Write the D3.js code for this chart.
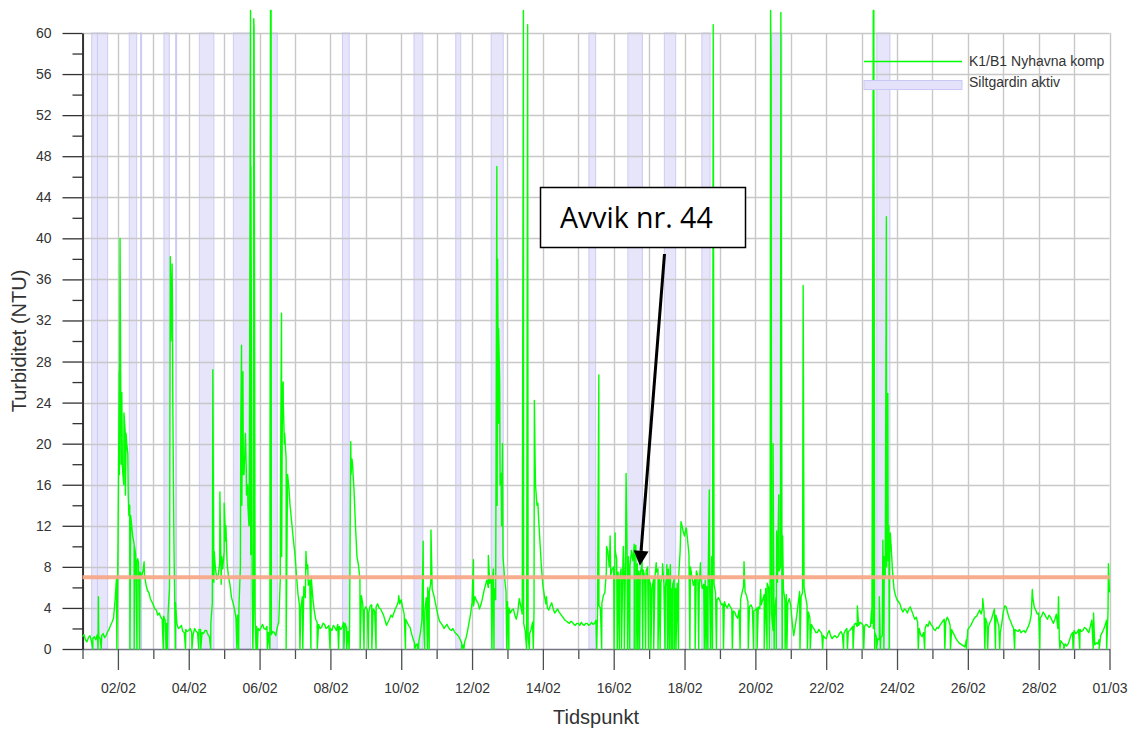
<!DOCTYPE html>
<html>
<head>
<meta charset="utf-8">
<script src="https://cdn.jsdelivr.net/npm/d3@7"></script>
<style>
  html, body { margin: 0; padding: 0; background: #fff; }
  svg { display: block; font-family: "Liberation Sans", Arial, sans-serif; }
</style>
</head>
<body>
<svg id="chart" width="1128" height="729"></svg>
<script>
// Measurement period: February 2024. Day offsets below count from 01/02 00:00.
const periodStart = new Date(2024, 1, 1);
const periodEnd = new Date(2024, 2, 1);

const dateTicks = ["02/02", "04/02", "06/02", "08/02", "10/02", "12/02", "14/02",
  "16/02", "18/02", "20/02", "22/02", "24/02", "26/02", "28/02", "01/03"];
const yTicks = [0, 4, 8, 12, 16, 20, 24, 28, 32, 36, 40, 44, 48, 52, 56, 60];
const yMinorTicks = [2, 6, 10, 14, 18, 22, 26, 30, 34, 38, 42, 46, 50, 54, 58];

// Turbidity limit (NTU)
const threshold = 7;

// Periods with the silt curtain active, [start day, end day]
const curtainPeriods = [
  [0.26, 0.43], [0.42, 0.71], [1.32, 1.53], [1.64, 1.66], [2.30, 2.45], [2.63, 2.65],
  [3.30, 3.71], [4.26, 4.75], [5.30, 5.50], [7.34, 7.53], [9.36, 9.61], [10.54, 10.68],
  [11.54, 11.88], [14.30, 14.49], [15.40, 15.81], [16.43, 16.75], [17.49, 17.72],
  [19.46, 19.75], [22.43, 22.80]
];

// K1/B1 Nyhavna komp: hourly turbidity (NTU), one row per day
const turbidityHourly = [
  1.2, 1.4, 0.9, 0.7, 1.1, 1.3, 0.8, 1.0, 1.2, 0.9, 1.4, 1.2, 1.0, 1.3, 1.5, 1.1, 1.3, 1.7, 1.9, 2.3, 2.6, 3.0, 4.6, 6.8,
  9.5, 17, 22, 18, 16, 21, 20, 15, 14, 12.5, 11, 10.2, 9.2, 8.6, 8.4, 7.5, 7.1, 7.6, 7.2, 6.3, 5.7, 5.5, 4.9, 4.6,
  4.3, 3.9, 3.8, 3.3, 3.5, 3.1, 2.9, 3.2, 2.8, 2.5, 3.4, 6.0, 30, 33, 10, 4.5, 2.4, 2.0, 2.1, 2.3, 1.7, 1.6, 1.9, 1.7,
  1.8, 2.0, 1.6, 1.4, 2.0, 1.7, 1.6, 1.9, 1.9, 1.6, 1.5, 1.8, 1.8, 1.4, 1.2, 2.6, 4.5, 6.5, 8.0, 6.8, 7.2, 8.4, 6.3, 7.8,
  9.5, 10.5, 8.3, 7.0, 6.2, 5.0, 4.5, 3.9, 3.0, 3.3, 4.0, 8.0, 14, 17, 19, 17.5, 16, 12, 9.2, 6.0, 4.1, 3.0, 2.2, 2.0,
  1.8, 2.1, 2.4, 2.0, 1.9, 2.2, 1.6, 1.8, 1.4, 1.7, 1.6, 1.3, 2.1, 2.6, 6.7, 9.0, 26, 21, 18.5, 17, 15.5, 13.5, 12, 10.5,
  9.2, 7.2, 5.4, 4.3, 4.0, 5.1, 6.1, 5.0, 7.8, 6.2, 6.7, 7.0, 5.1, 3.8, 2.9, 2.6, 2.4, 2.0, 2.1, 2.5, 2.4, 2.0, 2.1, 2.3,
  2.0, 1.8, 2.3, 2.1, 1.8, 2.4, 2.2, 1.9, 2.1, 2.6, 2.5, 2.0, 1.7, 2.3, 17, 18, 15.5, 12, 9.0, 8.2, 6.8, 5.2, 4.3, 3.8,
  4.1, 3.8, 3.6, 4.2, 4.3, 3.9, 3.7, 4.1, 4.4, 4.0, 3.9, 3.6, 3.3, 2.8, 2.3, 2.6, 2.9, 3.3, 3.1, 3.5, 3.9, 4.2, 4.6, 4.4,
  4.8, 4.0, 3.4, 2.9, 2.6, 2.3, 2.1, 1.5, 1.0, 0.6, 0.4, 0.5, 0.8, 1.6, 2.8, 3.3, 3.7, 5.0, 6.0, 5.6, 6.4, 5.8, 5.3, 4.6,
  3.9, 3.2, 2.7, 2.5, 2.3, 2.0, 2.2, 2.4, 2.1, 1.9, 1.8, 2.0, 1.7, 1.5, 1.4, 1.2, 0.9, 0.6, 0.4, 0.7, 1.1, 1.8, 2.6, 3.4,
  4.5, 4.2, 5.1, 4.7, 4.5, 3.9, 4.3, 4.9, 5.6, 6.2, 6.7, 6.0, 6.4, 7.1, 6.9, 5.9, 4.8, 14, 22, 16, 12, 9.0, 7.0, 5.6,
  4.6, 4.0, 3.5, 3.8, 3.9, 3.3, 2.9, 3.6, 4.9, 4.2, 3.4, 2.5, 1.8, 1.4, 1.1, 1.5, 1.9, 2.6, 3.8, 16, 14, 13, 10.5, 8.0,
  6.2, 5.2, 4.4, 4.0, 3.8, 4.2, 4.5, 3.9, 3.5, 3.7, 3.9, 3.6, 3.4, 3.2, 3.0, 2.8, 2.7, 2.6, 2.5, 2.7, 2.6, 2.4, 2.3, 2.5,
  2.5, 2.3, 2.6, 2.4, 2.3, 2.5, 2.5, 2.3, 2.4, 2.6, 2.4, 2.5, 2.8, 3.3, 4.2, 4.0, 4.5, 5.2, 5.5, 7.5, 9.5, 8.0, 7.2, 7.8,
  8.0, 9.6, 8.8, 7.5, 6.9, 7.8, 6.5, 7.2, 8.6, 10.2, 9.0, 8.1, 9.5, 8.6, 9.6, 10.1, 8.3, 7.6, 7.4, 8.1, 7.7, 7.0, 7.6, 8.0,
  6.8, 6.3, 5.9, 6.8, 7.1, 7.5, 7.8, 7.0, 6.5, 7.3, 6.4, 6.0, 7.3, 7.8, 6.6, 5.9, 6.3, 6.8, 5.9, 6.4, 7.0, 9.5, 12.2, 11.5,
  11, 11.8, 10.7, 9.2, 8.0, 7.0, 6.2, 6.8, 7.6, 7.1, 6.3, 6.9, 5.9, 6.3, 6.7, 6.1, 7.0, 6.4, 5.8, 6.5, 6.3, 5.5, 4.8, 5.0,
  4.7, 4.3, 4.4, 4.6, 4.2, 4.0, 4.4, 4.1, 3.9, 3.7, 3.6, 3.2, 3.0, 3.8, 4.8, 5.5, 6.1, 5.6, 5.2, 4.6, 4.1, 4.3, 4.0, 3.7,
  3.8, 4.0, 4.1, 3.9, 4.3, 4.8, 5.3, 5.9, 6.4, 6.0, 6.9, 3.5, 1.8, 3.2, 5.0, 6.5, 7.6, 8.0, 7.1, 5.8, 4.8, 5.3, 4.5, 4.9,
  4.2, 2.5, 1.3, 2.2, 3.2, 4.4, 5.6, 5.1, 5.5, 6.0, 5.1, 4.3, 3.6, 3.0, 2.4, 2.1, 1.9, 1.6, 1.6, 1.9, 1.7, 1.5, 1.3, 1.1,
  1.0, 1.5, 1.8, 1.3, 1.0, 1.2, 1.3, 1.1, 1.2, 1.5, 1.7, 1.4, 1.5, 1.8, 2.0, 1.7, 1.8, 2.0, 2.2, 2.4, 2.5, 2.2, 2.3, 2.6,
  2.5, 2.3, 2.2, 2.4, 2.3, 2.1, 2.2, 2.5, 2.0, 1.6, 1.2, 1.0, 0.9, 1.1, 1.3, 3.5, 7.0, 8.0, 8.6, 9.2, 10, 7.5, 5.8, 5.2,
  4.8, 4.6, 4.4, 3.9, 3.6, 3.9, 3.8, 3.5, 3.9, 4.1, 3.7, 3.3, 2.9, 3.1, 2.6, 2.0, 1.4, 1.2, 1.6, 2.0, 2.4, 2.2, 2.7, 2.4,
  2.2, 1.9, 1.8, 2.1, 2.0, 2.3, 2.5, 2.7, 2.9, 2.6, 3.1, 2.8, 2.3, 1.9, 1.6, 1.3, 1.0, 0.8, 0.6, 0.5, 0.4, 0.3, 0.2, 0.9,
  1.9, 2.1, 2.3, 2.6, 2.9, 3.1, 3.2, 3.5, 3.8, 3.4, 4.0, 3.6, 3.0, 2.5, 2.2, 2.6, 2.9, 3.4, 3.9, 3.3, 2.8, 2.2, 1.6, 2.5,
  3.6, 4.2, 4.1, 3.5, 3.0, 2.7, 2.3, 2.0, 1.9, 1.8, 1.7, 1.9, 1.6, 1.7, 1.8, 1.6, 1.9, 2.2, 2.6, 3.4, 5.0, 4.1, 3.8, 3.4,
  3.5, 3.0, 3.2, 3.6, 3.4, 3.1, 2.9, 3.3, 3.1, 2.8, 2.5, 2.9, 3.4, 2.0, 1.0, 0.8, 0.6, 0.4, 0.5, 0.3, 0.5, 0.9, 1.4, 1.6,
  1.8, 1.5, 1.6, 1.9, 1.9, 1.7, 1.8, 2.1, 2.0, 1.8, 1.6, 2.2, 2.8, 1.3, 0.4, 0.6, 0.5, 0.9, 1.3, 1.6, 1.9, 2.3, 2.8, 3.6,
  5.5
];

// Short turbidity peaks between the hourly readings, [day, NTU]
const spikes = [
  [0.45, 5.1],
  [1.04, 27], [1.06, 40], [1.09, 18], [1.11, 25], [1.14, 17], [1.17, 23], [1.21, 15],
  [1.23, 21], [1.28, 19], [1.31, 13], [1.36, 13], [1.47, 10], [1.56, 8.8], [1.74, 8.5],
  [2.48, 38.2], [2.53, 37.5], [2.55, 24],
  [3.68, 27.2], [3.72, 9.5], [3.88, 15.3], [3.93, 9],
  [4.0, 14.2], [4.05, 12], [4.47, 22], [4.49, 29.6], [4.51, 20], [4.53, 27], [4.56, 17],
  [4.6, 21], [4.63, 15], [4.67, 14], [4.7, 12], [4.745, 62.2], [4.755, 47], [4.835, 61.4],
  [4.845, 60.5],
  [5.31, 62.2], [5.325, 62.2], [5.6, 22], [5.62, 32.7], [5.645, 25], [5.67, 24], [5.7, 20],
  [5.79, 17], [5.86, 14],
  [6.31, 9.5], [6.36, 8.2],
  [7.575, 20.2], [7.61, 18.5],
  [8.93, 5.2],
  [9.62, 10.5], [9.84, 11.6],
  [11.04, 8.7], [11.46, 9.1], [11.6, 7.8], [11.7, 47], [11.72, 38], [11.75, 31.2],
  [11.78, 26], [11.82, 17.1], [11.86, 20],
  [12.45, 62.2], [12.57, 60.8], [12.76, 24.2], [12.78, 18.4], [12.86, 14.2],
  [13.1, 5.1],
  [14.58, 26.7], [14.8, 10], [14.9, 11],
  [15.04, 11.3], [15.27, 10], [15.35, 17.1], [15.37, 11.6], [15.5, 9.6], [15.58, 10.2], [15.8, 8.5],
  [16.2, 8.4], [16.38, 8.3], [16.5, 8.2], [16.6, 8.2], [16.9, 12.4],
  [17.05, 11.8], [17.45, 8.4], [17.7, 15.5], [17.765, 9], [17.81, 60.8],
  [18.68, 8.5],
  [19.15, 5.8], [19.43, 62.2], [19.445, 56], [19.5, 20], [19.6, 11.5], [19.66, 15],
  [19.72, 62], [19.77, 11],
  [20.35, 35.4],
  [21.88, 4.2],
  [22.28, 3.8], [22.33, 62.2], [22.345, 62.2], [22.5, 5.1], [22.6, 10.6], [22.64, 9],
  [22.7, 42.1], [22.74, 24.9], [22.77, 12], [22.81, 11.3],
  [25.42, 4.9],
  [26.82, 5.8],
  [27.56, 5.1],
  [28.55, 3.5], [28.97, 8.3]
];

// Sensor dropouts (reading 0 NTU), day
const dropouts = [
  0.29, 0.44, 0.53, 0.97, 1.34, 1.46, 1.54, 1.61, 2.28, 2.36, 2.40, 2.62, 2.91, 3.09, 3.28,
  3.34, 3.62, 4.36, 4.41, 4.81, 4.90, 4.94, 5.22, 5.29, 5.75, 6.14, 6.22, 6.45, 6.63, 6.99,
  7.23, 7.38, 7.46, 7.53, 7.84, 7.95, 8.07, 8.17, 8.29, 9.12, 9.38, 9.46, 9.49, 9.66, 9.74,
  9.79, 10.71, 10.77, 11.56, 11.62, 11.98, 12.04, 12.54, 12.62, 12.73, 14.52, 14.66, 15.01,
  15.1, 15.16, 15.22, 15.3, 15.39, 15.45, 15.58, 15.63, 15.68, 15.73, 15.82, 15.9, 15.98,
  16.05, 16.13, 16.25, 16.31, 16.45, 16.52, 16.57, 16.62, 16.66, 16.71, 16.76, 16.83,
  17.15, 17.3, 17.4, 17.56, 17.61, 17.66, 17.74, 17.79, 17.9, 18.1, 18.35, 18.57, 18.8,
  18.95, 19.05, 19.25, 19.33, 19.40, 19.53, 19.59, 19.76, 19.84, 19.89, 20.26, 20.47,
  20.55, 20.9, 21.49, 21.6, 21.76, 22.06, 22.37, 22.42, 22.53, 22.63, 22.78, 23.6, 23.78,
  24.35, 24.51, 24.96, 25.48, 25.56, 25.78, 25.9, 26.32, 27.03, 27.6, 27.71, 27.97, 28.16,
  28.54, 28.71, 28.92
];

const annotation = { label: "Avvik nr. 44", day: 15.74, value: 8.1 };

// ---------------------------------------------------------------------------
const svg = d3.select("#chart");
const plot = { left: 82.5, right: 1109.5, top: 33, bottom: 649 };

const toDate = d => new Date(periodStart.getTime() + d * 86400000);

const x = d3.scaleTime().domain([periodStart, periodEnd]).range([plot.left, plot.right]);
const y = d3.scaleLinear().domain([0, 60]).range([plot.bottom, plot.top]);

// silt curtain periods
svg.append("g")
  .selectAll("rect")
  .data(curtainPeriods)
  .join("rect")
  .attr("x", d => x(toDate(d[0])))
  .attr("width", d => Math.max(1, x(toDate(d[1])) - x(toDate(d[0]))))
  .attr("y", plot.top)
  .attr("height", plot.bottom - plot.top)
  .attr("fill", "#e7e5fa")
  .attr("stroke", "#cccbf7")
  .attr("stroke-width", 1);

// grid
const allDays = d3.timeDay.range(periodStart, d3.timeDay.offset(periodEnd, 1));
const grid = svg.append("g").attr("stroke", "#c8c8c8").attr("stroke-width", 1.4);
grid.selectAll("line.v")
  .data(allDays)
  .join("line")
  .attr("class", "v")
  .attr("x1", d => Math.round(x(d)) + 0.5)
  .attr("x2", d => Math.round(x(d)) + 0.5)
  .attr("y1", plot.top)
  .attr("y2", plot.bottom);
grid.selectAll("line.h")
  .data(yTicks.filter(v => v > 0))
  .join("line")
  .attr("class", "h")
  .attr("x1", plot.left)
  .attr("x2", plot.right)
  .attr("y1", d => Math.round(y(d)) + 0.5)
  .attr("y2", d => Math.round(y(d)) + 0.5);

// x axis
const parseTick = d3.timeParse("%d/%m/%Y");
const majorDates = dateTicks.map(s => parseTick(s + "/2024"));
const majorSet = new Set(majorDates.map(d => +d));
const minorDates = allDays.filter(d => !majorSet.has(+d));

const xMinor = svg.append("g")
  .attr("transform", `translate(0,${plot.bottom})`)
  .call(d3.axisBottom(x).tickValues(minorDates).tickSize(10).tickFormat(""));
xMinor.select(".domain").remove();
xMinor.selectAll("line").attr("stroke", "#4a5050").attr("stroke-width", 1.3);

const xAxis = svg.append("g")
  .attr("transform", `translate(0,${plot.bottom})`)
  .call(d3.axisBottom(x).tickValues(majorDates).tickFormat(d3.timeFormat("%d/%m"))
    .tickSize(21).tickPadding(13).tickSizeOuter(0));
xAxis.select(".domain").attr("stroke", "#737383").attr("stroke-width", 1.6);
xAxis.selectAll("line").attr("stroke", "#4a5050").attr("stroke-width", 1.3);
xAxis.selectAll("text")
  .attr("font-size", 14)
  .attr("font-family", "Liberation Sans, Arial, sans-serif")
  .attr("fill", "#333");

// y axis
const yMinor = svg.append("g")
  .attr("transform", `translate(${plot.left},0)`)
  .call(d3.axisLeft(y).tickValues(yMinorTicks).tickSize(10).tickFormat(""));
yMinor.select(".domain").remove();
yMinor.selectAll("line").attr("stroke", "#333").attr("stroke-width", 1.3);

const yAxis = svg.append("g")
  .attr("transform", `translate(${plot.left},0)`)
  .call(d3.axisLeft(y).tickValues(yTicks).tickSize(20).tickPadding(11).tickSizeOuter(0));
yAxis.select(".domain").attr("stroke", "#000").attr("stroke-width", 1.5);
yAxis.selectAll("line").attr("stroke", "#333").attr("stroke-width", 1.3);
yAxis.selectAll("text")
  .attr("font-size", 14)
  .attr("font-family", "Liberation Sans, Arial, sans-serif")
  .attr("fill", "#333");

// axis titles
svg.append("text")
  .attr("x", (plot.left + plot.right) / 2)
  .attr("y", 724)
  .attr("text-anchor", "middle")
  .attr("font-size", 20)
  .attr("fill", "#333")
  .text("Tidspunkt");
svg.append("text")
  .attr("transform", `translate(26,${(plot.top + plot.bottom) / 2}) rotate(-90)`)
  .attr("text-anchor", "middle")
  .attr("font-size", 20)
  .attr("fill", "#333")
  .text("Turbiditet (NTU)");

// turbidity series: hourly readings merged with peaks and dropouts
const series = turbidityHourly.map((v, i) => ({ day: i / 24, value: v }))
  .concat(spikes.map(([d, v]) => ({ day: d, value: v })))
  .concat(dropouts.map(d => ({ day: d, value: 0 })))
  .sort((a, b) => a.day - b.day);

svg.append("path")
  .datum(series)
  .attr("fill", "none")
  .attr("stroke", "#00ff00")
  .attr("stroke-width", 1.4)
  .attr("stroke-linejoin", "round")
  .attr("d", d3.line().x(d => x(toDate(d.day))).y(d => y(d.value)));

// limit line
svg.append("line")
  .attr("x1", plot.left)
  .attr("x2", plot.right)
  .attr("y1", y(threshold))
  .attr("y2", y(threshold))
  .attr("stroke", "#f7a888")
  .attr("stroke-opacity", 0.95)
  .attr("stroke-width", 4);

// legend
const legend = svg.append("g").attr("font-size", 14).attr("fill", "#333");
legend.append("line")
  .attr("x1", 864).attr("x2", 962).attr("y1", 61.5).attr("y2", 61.5)
  .attr("stroke", "#00ff00").attr("stroke-width", 1.5);
legend.append("rect")
  .attr("x", 864).attr("y", 80.5).attr("width", 98).attr("height", 9)
  .attr("fill", "#e4e2fa").attr("stroke", "#cac9f6");
legend.append("text").attr("x", 969).attr("y", 66).text("K1/B1 Nyhavna komp");
legend.append("text").attr("x", 969).attr("y", 87).text("Siltgardin aktiv");

// annotation callout
const tipX = x(toDate(annotation.day));
const tipY = y(annotation.value);
const startX = 664.5, startY = 254;
const ang = Math.atan2(tipY - startY, tipX - startX);
const headLen = 15, headHalf = 7.5;
const baseX = tipX - headLen * Math.cos(ang), baseY = tipY - headLen * Math.sin(ang);
const callout = svg.append("g");
callout.append("rect")
  .attr("x", 540.5).attr("y", 187.5).attr("width", 205).attr("height", 60)
  .attr("fill", "#fff").attr("stroke", "#000").attr("stroke-width", 1.5);
callout.append("text")
  .attr("x", 560).attr("y", 228)
  .attr("font-family", "Open Sans, Noto Sans, sans-serif")
  .attr("font-size", 28.5)
  .attr("fill", "#000")
  .text(annotation.label);
callout.append("line")
  .attr("x1", startX).attr("y1", startY).attr("x2", baseX).attr("y2", baseY)
  .attr("stroke", "#000").attr("stroke-width", 3);
callout.append("polygon")
  .attr("points", [
    [tipX, tipY],
    [baseX + headHalf * Math.sin(ang), baseY - headHalf * Math.cos(ang)],
    [baseX - headHalf * Math.sin(ang), baseY + headHalf * Math.cos(ang)]
  ].map(p => p.join(",")).join(" "))
  .attr("fill", "#000");
</script>
</body>
</html>
